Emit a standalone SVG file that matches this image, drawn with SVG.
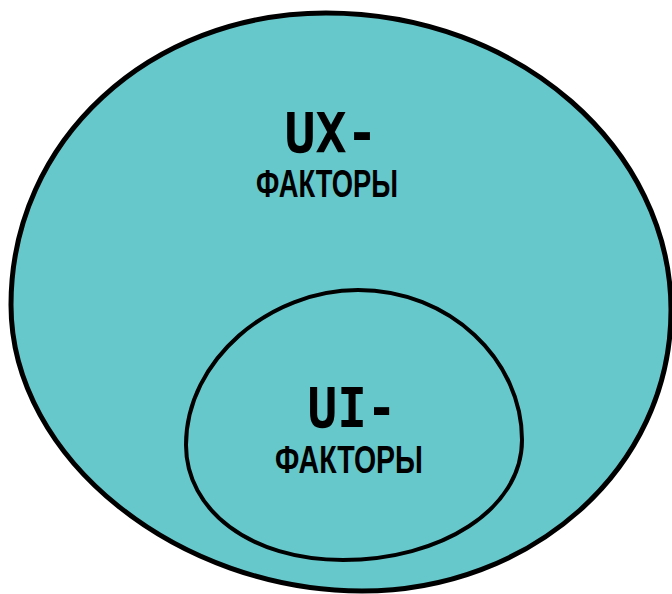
<svg xmlns="http://www.w3.org/2000/svg" width="672" height="594" viewBox="0 0 672 594">
  <style>
    .blob { fill: #66C8CB; stroke: #000; stroke-linejoin: round; }
    .big { font-family: "DejaVu Sans Mono", "Liberation Mono", monospace; font-weight: bold; font-size: 55px; fill: #000; text-anchor: middle; }
    .small { font-family: "Liberation Sans", Arial, sans-serif; font-weight: bold; font-size: 38px; fill: #000; text-anchor: middle; }
  </style>
  <rect width="672" height="594" fill="#fff"/>
  <g id="ux">
    <path class="blob" stroke-width="5" d="M 326 13 C 520 13, 671 150, 671 310 C 671 470, 530 591, 362 591 C 180 591, 11 460, 11 305 C 11 140, 150 13, 326 13 Z"/>
    <text class="big" x="331" y="152" textLength="93" lengthAdjust="spacingAndGlyphs">UX-</text>
    <text class="small" x="327" y="197" textLength="142" lengthAdjust="spacingAndGlyphs">ФАКТОРЫ</text>
  </g>
  <g id="ui">
    <path class="blob" stroke-width="4" d="M 358 290 C 450 290, 522 360, 522 440 C 522 510, 440 560, 343 560 C 250 560, 186 510, 186 445 C 186 360, 270 290, 358 290 Z"/>
    <text class="big" x="352" y="427" textLength="89" lengthAdjust="spacingAndGlyphs">UI-</text>
    <text class="small" x="349" y="473" textLength="148" lengthAdjust="spacingAndGlyphs">ФАКТОРЫ</text>
  </g>
  <g id="connectors"/>
</svg>
